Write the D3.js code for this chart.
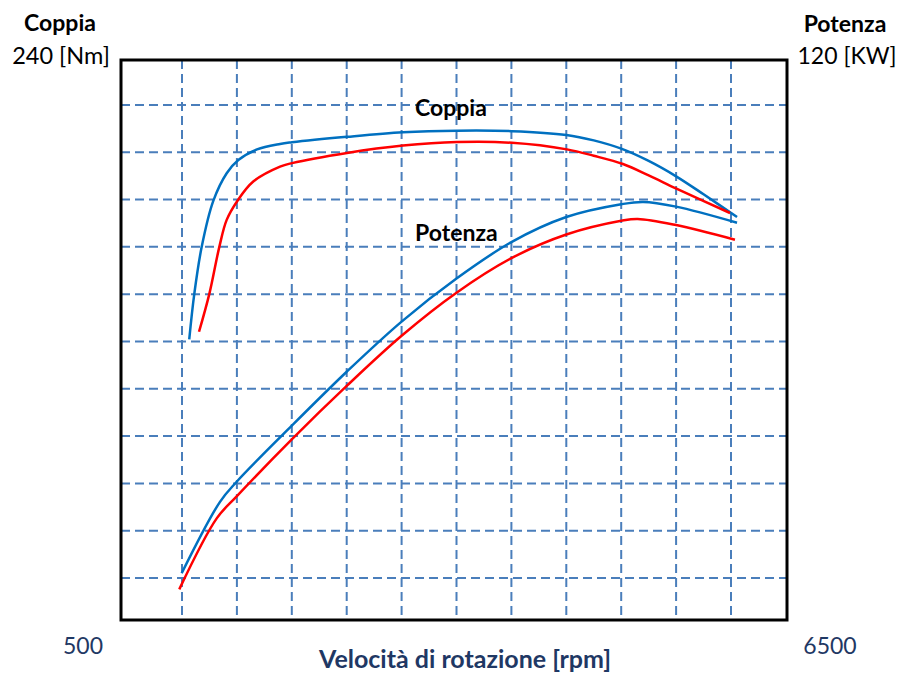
<!DOCTYPE html>
<html>
<head>
<meta charset="utf-8">
<script src="https://cdn.jsdelivr.net/npm/d3@7"></script>
<style>
  body { margin: 0; background: #fff; }
  text { font-family: Lato, "Open Sans", sans-serif; }
</style>
</head>
<body>
<svg id="chart"></svg>
<script>
// valori
const rpmDomain = [500, 6500];
const torqueDomain = [0, 240];
const powerDomain = [0, 120];
const gridRpm = d3.range(1000, 6001, 500);
const gridTorque = d3.range(20, 221, 20);

const torqueBlueRpm = [1066, 1112, 1179, 1285, 1407, 1513, 1683, 1893, 2002, 2503, 3013, 3505, 4005, 4500, 4750, 5000, 5250, 5500, 5750, 6055];
const torqueBlue    = [120.9, 140.1, 159.9, 179.4, 191.1, 196.7, 201.2, 203.5, 204.2, 206.5, 208.4, 209.1, 208.9, 207.3, 205.0, 201.5, 196.3, 189.8, 182.2, 172.6];
const torqueRedRpm  = [1155, 1249, 1340, 1407, 1504, 1649, 1893, 2002, 2503, 3013, 3505, 4005, 4506, 4750, 5016, 5250, 5508, 5991];
const torqueRed     = [124.1, 140.1, 160.0, 171.4, 179.4, 187.6, 193.9, 195.4, 199.7, 202.8, 204.3, 204.0, 201.2, 198.5, 195.0, 190.2, 184.5, 174.3];

const powerBlueRpm = [997, 1346, 1500, 2000, 2500, 3000, 3500, 4000, 4500, 5000, 5200, 5500, 6055];
const powerBlue    = [11.0, 26.1, 30.4, 42.2, 53.6, 64.2, 73.3, 81.0, 86.3, 89.0, 89.5, 88.5, 85.1];
const powerRedRpm  = [975, 1316, 1500, 2000, 2500, 3000, 3500, 4000, 4500, 5000, 5150, 5500, 6036];
const powerRed     = [7.6, 22.6, 27.3, 39.3, 50.6, 61.2, 70.3, 77.6, 82.6, 85.5, 85.9, 84.6, 81.5];

const width = 901, height = 673;
const boxLeft = 121, boxRight = 787, boxTop = 60, boxBottom = 620;

const svg = d3.select("#chart")
  .attr("width", width)
  .attr("height", height)
  .attr("viewBox", [0, 0, width, height]);

const x = d3.scaleLinear().domain(rpmDomain).range([127.1, 785.9]);
const yT = d3.scaleLinear().domain(torqueDomain).range([625.3, 57.6]);
const yP = d3.scaleLinear().domain(powerDomain).range([625.3, 57.6]);

// griglia tratteggiata
const grid = svg.append("g")
  .attr("stroke", "#4a7ebb")
  .attr("stroke-width", 2)
  .attr("stroke-dasharray", "9,5");

grid.selectAll(".v").data(gridRpm).join("line")
  .attr("class", "v")
  .attr("x1", d => x(d)).attr("x2", d => x(d))
  .attr("y1", boxTop).attr("y2", boxBottom);

grid.selectAll(".h").data(gridTorque).join("line")
  .attr("class", "h")
  .attr("x1", boxLeft).attr("x2", boxRight)
  .attr("y1", d => yT(d)).attr("y2", d => yT(d));

// curve
function draw(rpm, vals, y, color) {
  const pts = rpm.map((r, i) => [r, vals[i]]);
  svg.append("path")
    .datum(pts)
    .attr("fill", "none")
    .attr("stroke", color)
    .attr("stroke-width", 2.5)
    .attr("d", d3.line().x(d => x(d[0])).y(d => y(d[1])).curve(d3.curveCatmullRom.alpha(0.5)));
}

draw(torqueBlueRpm, torqueBlue, yT, "#0070c0");
draw(torqueRedRpm, torqueRed, yT, "#ff0000");
draw(powerBlueRpm, powerBlue, yP, "#0070c0");
draw(powerRedRpm, powerRed, yP, "#ff0000");

// cornice
svg.append("rect")
  .attr("x", boxLeft).attr("y", boxTop)
  .attr("width", boxRight - boxLeft).attr("height", boxBottom - boxTop)
  .attr("fill", "none")
  .attr("stroke", "#000")
  .attr("stroke-width", 3);

// testi
function label(tx, ty, str, opts) {
  svg.append("text")
    .attr("x", tx).attr("y", ty)
    .attr("text-anchor", opts.anchor || "middle")
    .attr("font-size", opts.size || 20)
    .attr("font-weight", opts.bold ? "bold" : "normal")
    .attr("fill", opts.color || "#000")
    .text(str);
}

label(60, 31, "Coppia", { bold: true, size: 23 });
label(61, 64, torqueDomain[1] + " [Nm]", { size: 23.5 });
label(845, 32, "Potenza", { bold: true, size: 23 });
label(847, 64, powerDomain[1] + " [KW]", { size: 23 });
label(415, 116, "Coppia", { bold: true, size: 23, anchor: "start" });
label(415, 241, "Potenza", { bold: true, size: 23, anchor: "start" });
label(83, 654, rpmDomain[0], { size: 23, color: "#1f3864" });
label(830, 654, rpmDomain[1], { size: 23, color: "#1f3864" });
label(465, 668, "Velocità di rotazione [rpm]", { bold: true, size: 25, color: "#1f3864" });
</script>
</body>
</html>
